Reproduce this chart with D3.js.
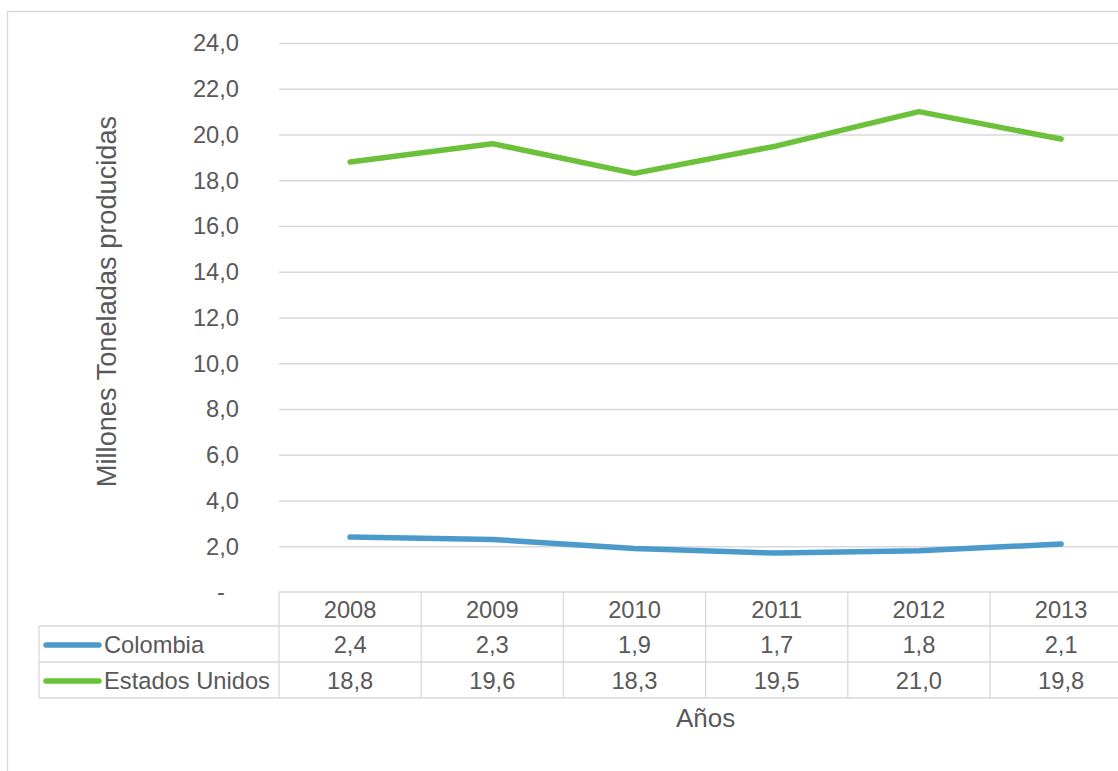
<!DOCTYPE html>
<html>
<head>
<meta charset="utf-8">
<script src="https://cdn.jsdelivr.net/npm/d3@7"></script>
<style>
  html, body { margin: 0; padding: 0; background: #fff; }
  svg { display: block; }
  text { font-family: "Liberation Sans", Arial, sans-serif; fill: #595959; }
</style>
</head>
<body>
<svg id="chart" width="1118" height="771"></svg>
<script>
// Production series, millions of tonnes per year
const years = ["2008", "2009", "2010", "2011", "2012", "2013"];
const colombia = [2.4, 2.3, 1.9, 1.7, 1.8, 2.1];
const estadosUnidos = [18.8, 19.6, 18.3, 19.5, 21.0, 19.8];
const yTicks = [0, 2, 4, 6, 8, 10, 12, 14, 16, 18, 20, 22, 24];

const series = [
  { name: "Colombia", values: colombia, color: "#4a9bcc" },
  { name: "Estados Unidos", values: estadosUnidos, color: "#6cc13a" }
];

const svg = d3.select("#chart");
const W = 1118, H = 771;

const plotLeft = 279, colW = 142.2;
const plotTop = 43, plotBottom = 592;
const legendLeft = 39;
const rowH = [592, 626, 662, 698];   // table row boundaries
const labelSize = "23.7px";

const x = d3.scaleBand().domain(years).range([plotLeft, plotLeft + colW * years.length]);
const y = d3.scaleLinear().domain([0, 24]).range([plotBottom, plotTop]);

const fmt = v => v.toFixed(1).replace(".", ",");

// Outer chart frame
svg.append("path")
  .attr("d", `M7.5,${H + 5} V11.5 H${W + 5}`)
  .attr("fill", "none").attr("stroke", "#d9d9d9").attr("stroke-width", 1.3);

// Horizontal gridlines
svg.append("g").selectAll("line")
  .data(yTicks.filter(t => t > 0))
  .join("line")
  .attr("x1", plotLeft).attr("x2", W + 5)
  .attr("y1", d => y(d) + 0.5).attr("y2", d => y(d) + 0.5)
  .attr("stroke", "#d9d9d9").attr("stroke-width", 1.3);

// Y tick labels
svg.append("g").selectAll("text")
  .data(yTicks)
  .join("text")
  .attr("x", d => d === 0 ? 225 : 239)
  .attr("y", d => y(d))
  .attr("dy", "0.35em")
  .attr("text-anchor", "end")
  .style("font-size", labelSize)
  .text(d => d === 0 ? "-" : fmt(d));

// Data table grid
const grid = svg.append("g").attr("stroke", "#d9d9d9").attr("stroke-width", 1.3).attr("fill", "none");
grid.append("line").attr("x1", plotLeft).attr("x2", W + 5).attr("y1", rowH[0]).attr("y2", rowH[0]);
rowH.slice(1).forEach(r => {
  grid.append("line").attr("x1", legendLeft).attr("x2", W + 5).attr("y1", r).attr("y2", r);
});
grid.append("line").attr("x1", legendLeft).attr("x2", legendLeft).attr("y1", rowH[1]).attr("y2", rowH[3]);
years.forEach(yr => {
  grid.append("line").attr("x1", x(yr)).attr("x2", x(yr)).attr("y1", rowH[0]).attr("y2", rowH[3]);
});

// Year header row
svg.append("g").selectAll("text")
  .data(years)
  .join("text")
  .attr("x", d => x(d) + x.bandwidth() / 2)
  .attr("y", (rowH[0] + rowH[1]) / 2 + 1)
  .attr("dy", "0.35em")
  .attr("text-anchor", "middle")
  .style("font-size", labelSize)
  .text(d => d);

// Series rows: legend key, name and values
series.forEach((s, i) => {
  const cy = (rowH[i + 1] + rowH[i + 2]) / 2 + 1;
  svg.append("line")
    .attr("x1", 46).attr("x2", 99).attr("y1", cy).attr("y2", cy)
    .attr("stroke", s.color).attr("stroke-width", 5.5).attr("stroke-linecap", "round");
  svg.append("text")
    .attr("x", 104).attr("y", cy).attr("dy", "0.35em")
    .style("font-size", labelSize)
    .text(s.name);
  svg.append("g").selectAll("text")
    .data(s.values)
    .join("text")
    .attr("x", (d, j) => x(years[j]) + x.bandwidth() / 2)
    .attr("y", cy).attr("dy", "0.35em")
    .attr("text-anchor", "middle")
    .style("font-size", labelSize)
    .text(d => fmt(d));
});

// Series lines
const line = d3.line()
  .x((d, j) => x(years[j]) + x.bandwidth() / 2)
  .y(d => y(d));

series.forEach(s => {
  svg.append("path")
    .datum(s.values)
    .attr("d", line)
    .attr("fill", "none")
    .attr("stroke", s.color)
    .attr("stroke-width", 5.5)
    .attr("stroke-linecap", "round")
    .attr("stroke-linejoin", "round");
});

// Axis titles
svg.append("text")
  .attr("transform", `translate(116,301.5) rotate(-90)`)
  .attr("text-anchor", "middle")
  .style("font-size", "27.2px")
  .text("Millones Toneladas producidas");

svg.append("text")
  .attr("x", plotLeft + colW * 3)
  .attr("y", 718).attr("dy", "0.35em")
  .attr("text-anchor", "middle")
  .style("font-size", "26px")
  .text("Años");
</script>
</body>
</html>
